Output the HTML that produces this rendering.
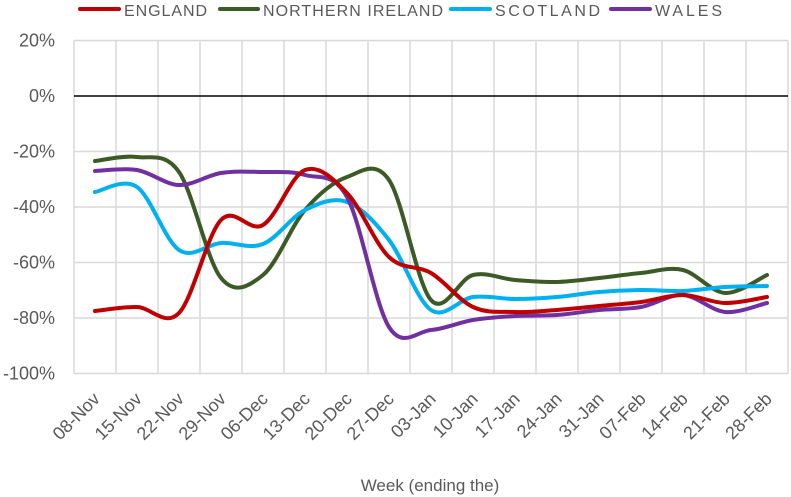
<!DOCTYPE html>
<html><head><meta charset="utf-8"><style>
html,body{margin:0;padding:0;background:#fff;}
svg{display:block;font-family:"Liberation Sans",sans-serif;}
</style></head><body>
<svg id="s" width="791" height="497" viewBox="0 0 791 497" xmlns="http://www.w3.org/2000/svg">
<g id="grid" stroke="#d9d9d9" stroke-width="1.5"></g>
<line x1="74" y1="96" x2="788" y2="96" stroke="#000" stroke-width="1.5"/>
<g id="lbl" font-size="17" fill="#595959"></g>
<g id="lines" fill="none" stroke-width="4" stroke-linecap="round" stroke-linejoin="round"></g>
<g font-size="16" fill="#595959">
<line x1="80" y1="9" x2="119" y2="9" stroke="#C00000" stroke-width="4" stroke-linecap="round"/><text x="124" y="16" textLength="83">ENGLAND</text>
<line x1="220" y1="9" x2="258" y2="9" stroke="#3B5A26" stroke-width="4" stroke-linecap="round"/><text x="263" y="16" textLength="180">NORTHERN IRELAND</text>
<line x1="451" y1="9" x2="490" y2="9" stroke="#00B0F0" stroke-width="4" stroke-linecap="round"/><text x="495" y="16" textLength="105">SCOTLAND</text>
<line x1="611" y1="9" x2="650" y2="9" stroke="#7030A0" stroke-width="4" stroke-linecap="round"/><text x="655" y="16" textLength="67">WALES</text>
<text x="430" y="491" text-anchor="middle" font-size="17">Week (ending the)</text>
</g>
</svg>
<script>
var ns="http://www.w3.org/2000/svg";
function el(p,t,a,txt){var e=document.createElementNS(ns,t);for(var k in a)e.setAttribute(k,a[k]);if(txt)e.textContent=txt;document.getElementById(p).appendChild(e);}
var ys=[40.5,96,151.5,207,262.5,318,373.5],yl=["20%","0%","-20%","-40%","-60%","-80%","-100%"];
for(var i=0;i<7;i++){if(i!=1)el("grid","line",{x1:74,x2:788,y1:ys[i],y2:ys[i]});el("lbl","text",{x:55,y:ys[i]+6,"text-anchor":"end","font-size":18},yl[i]);}
for(var i=0;i<=17;i++){var x=74+42*i;el("grid","line",{x1:x,x2:x,y1:40.5,y2:373.5});}
var cats=["08-Nov","15-Nov","22-Nov","29-Nov","06-Dec","13-Dec","20-Dec","27-Dec","03-Jan","10-Jan","17-Jan","24-Jan","31-Jan","07-Feb","14-Feb","21-Feb","28-Feb"];
for(var i=0;i<17;i++){var x=95+42*i+6,y=400;el("lbl","text",{x:x,y:y,"text-anchor":"end",transform:"rotate(-45 "+x+" "+y+")","font-size":18},cats[i]);}
var data={
"#3B5A26":[161,157,172,278,275,210,177,180,300,275,280,282,278,273,270,293,275],
"#00B0F0":[192,187,250,243,244,210,202,240,310,297,299,297,292,290,291,287,286],
"#7030A0":[171,170,185,173,172,175,197,327,330,320,316,315,310,307,295,312,303],
"#C00000":[311,307,313,220,225,170,193,257,273,307,312,310,306,302,295,303,297]};
for(var c in data){var v=data[c],P=v.map(function(y,i){return[95+42*i,y]});
var d="M"+P[0][0]+","+P[0][1];
for(var i=0;i<P.length-1;i++){var p0=P[i-1]||P[i],p1=P[i],p2=P[i+1],p3=P[i+2]||p2;
d+=" C"+(p1[0]+(p2[0]-p0[0])/6)+","+(p1[1]+(p2[1]-p0[1])/6)+" "+(p2[0]-(p3[0]-p1[0])/6)+","+(p2[1]-(p3[1]-p1[1])/6)+" "+p2[0]+","+p2[1];}
el("lines","path",{d:d,stroke:c});}
</script>
</body></html>
